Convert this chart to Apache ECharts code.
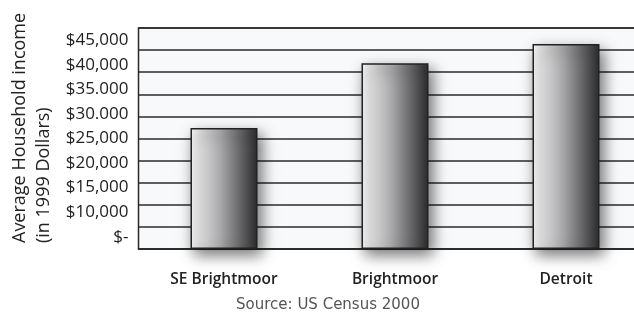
<!DOCTYPE html>
<html>
<head>
<meta charset="utf-8">
<script src="https://cdn.jsdelivr.net/npm/echarts@6/dist/echarts.min.js"></script>
<style>html,body{margin:0;padding:0;background:#fff;}#c{width:634px;height:322px;}</style>
</head>
<body>
<div id="c"></div>
<script>
var categories = ['SE Brightmoor', 'Brightmoor', 'Detroit'];
var incomeValues = [27400, 42000, 46400];
var tickLabels = ['$-', '$10,000', '$15,000', '$20,000', '$25,000', '$30.000', '$35.000', '$40,000', '$45,000'];
var titleLine1 = 'Average Household income';
var titleLine2 = '(in 1999 Dollars)';
var sourceText = 'Source: US Census 2000';

var chart = echarts.init(document.getElementById('c'), null, {renderer: 'canvas'});
var barGradient = new echarts.graphic.LinearGradient(0, 0, 1, 0, [
  {offset: 0, color: '#f8f8f8'},
  {offset: 0.45, color: '#a8a8aa'},
  {offset: 1, color: '#2c2c2e'}
]);
chart.setOption({
  animation: false,
  backgroundColor: '#ffffff',
  grid: {
    left: 138.5, top: 28, width: 513, height: 221,
    outerBoundsMode: 'none', containLabel: false,
    show: true, backgroundColor: '#f7f9fa', borderColor: '#2a2a2a', borderWidth: 1.5
  },
  xAxis: {
    type: 'category', data: categories,
    axisLine: {lineStyle: {color: '#2a2a2a', width: 1.5}},
    axisTick: {show: false},
    axisLabel: {margin: 23, fontFamily: 'Open Sans', fontWeight: 600, fontSize: 15.5, color: '#222'}
  },
  yAxis: [{
    type: 'value', min: 0, max: 50000, interval: 5000,
    axisLine: {show: false}, axisTick: {show: false}, axisLabel: {show: false},
    splitLine: {lineStyle: {color: '#2a2a2a', width: 1.5}}
  }, {
    type: 'category', data: tickLabels, position: 'left', boundaryGap: true,
    axisLine: {show: false}, axisTick: {show: false}, splitLine: {show: false},
    axisLabel: {margin: 10, fontFamily: 'Open Sans', fontSize: 17, color: '#222'}
  }],
  series: [{
    type: 'bar', data: incomeValues, barWidth: 67, yAxisIndex: 0,
    itemStyle: {
      color: barGradient, borderColor: '#222', borderWidth: 1.5,
      shadowColor: 'rgba(0,0,0,0.55)', shadowBlur: 14, shadowOffsetX: 4, shadowOffsetY: 6
    }
  }],
  graphic: [
    {type: 'text', x: 20, y: 243, rotation: Math.PI / 2,
     style: {text: titleLine1, fill: '#222', font: '18px "Open Sans"', textAlign: 'left', textVerticalAlign: 'middle'}},
    {type: 'text', x: 44, y: 243, rotation: Math.PI / 2,
     style: {text: titleLine2, fill: '#222', font: '18px "Open Sans"', textAlign: 'left', textVerticalAlign: 'middle'}},
    {type: 'text', x: 328, y: 305,
     style: {text: sourceText, fill: '#555', font: '15px "DejaVu Sans"', textAlign: 'center', textVerticalAlign: 'middle'}}
  ]
});
</script>
</body>
</html>
